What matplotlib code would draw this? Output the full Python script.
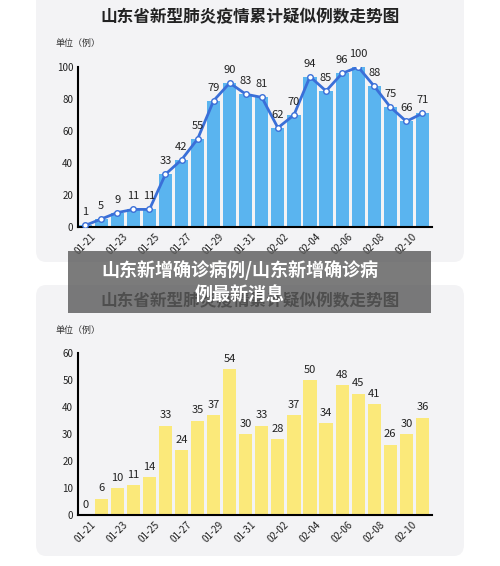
import matplotlib
matplotlib.use("Agg")
import matplotlib.pyplot as plt
from matplotlib.patches import FancyBboxPatch, Rectangle
import numpy as np

plt.rcParams['font.family'] = ['Noto Sans CJK SC', 'DejaVu Sans']

dates = ["01-21","01-22","01-23","01-24","01-25","01-26","01-27","01-28","01-29","01-30","01-31",
         "02-01","02-02","02-03","02-04","02-05","02-06","02-07","02-08","02-09","02-10","02-11"]
suspected = [1,5,9,11,11,33,42,55,79,90,83,81,62,70,94,85,96,100,88,75,66,71]
new_cases = [0,6,10,11,14,33,24,35,37,54,30,33,28,37,50,34,48,45,41,26,30,36]
title = "山东省新型肺炎疫情累计疑似例数走势图"
banner = "山东新增确诊病例/山东新增确诊病\n例最新消息"

W, H = 500, 566
fig = plt.figure(figsize=(W/100, H/100), dpi=100)
fig.patch.set_facecolor("white")

def px(x0, y0, x1, y1):
    return [x0/W, 1-y1/H, (x1-x0)/W, (y1-y0)/H]

# cards
for (y0, y1) in [(-10, 262), (285, 556)]:
    fig.patches.append(FancyBboxPatch((36/W, 1-y1/H), 428/W, (y1-y0)/H,
        boxstyle="round,pad=0,rounding_size=0.02", transform=fig.transFigure,
        facecolor="#f3f3f5", edgecolor="none", zorder=-5))

x = np.arange(len(dates))
ticklabels = [d if i % 2 == 0 else "" for i, d in enumerate(dates)]

def style(ax, ymax, step):
    ax.set_facecolor("none")
    ax.set_zorder(2)
    ax.set_xlim(-0.45, 21.6)
    ax.set_ylim(0, ymax)
    ax.set_yticks(np.arange(0, ymax+1, step))
    for s in ["top", "right"]:
        ax.spines[s].set_visible(False)
    ax.spines["left"].set_linewidth(1.5)
    ax.spines["bottom"].set_linewidth(1.5)
    ax.tick_params(length=0, labelsize=7, colors="#222222")
    ax.set_xticks(x)
    ax.set_xticklabels(ticklabels, rotation=45, fontsize=7)

# top
ax1 = fig.add_axes(px(78, 67, 432, 227))
ax1.bar(x, suspected, width=0.82, color="#5ab4ef", zorder=2)
ax1.plot(x, suspected, color="#3a6fd8", lw=2, marker="o", ms=4, mfc="white", mec="#3a6fd8", zorder=3)
for xi, v in zip(x, suspected):
    ax1.text(xi, v + 5, str(v), ha="center", va="bottom", fontsize=8, color="#222222")
style(ax1, 100, 20)
fig.text(250/W, 1-17/H, title, ha="center", va="center", fontsize=12, weight="bold", color="#222222")
fig.text(55/W, 1-43/H, "单位（例）", ha="left", va="center", fontsize=6.5, color="#333333")

# bottom
ax2 = fig.add_axes(px(78, 353, 432, 515))
ax2.bar(x, new_cases, width=0.82, color="#fbe97a", zorder=2)
for xi, v in zip(x, new_cases):
    ax2.text(xi, v + 2, str(v), ha="center", va="bottom", fontsize=8, color="#222222")
style(ax2, 60, 10)
fig.text(250/W, 1-301/H, title, ha="center", va="center", fontsize=12, weight="bold", color="#222222")
fig.text(55/W, 1-330/H, "单位（例）", ha="left", va="center", fontsize=6.5, color="#333333")

# banner
fig.patches.append(Rectangle((68/W, 1-313/H), 363/W, 62/H, transform=fig.transFigure,
    facecolor="#5a5a5a", alpha=0.8, edgecolor="none", zorder=10))
fig.text(240/W, 1-282/H, banner, ha="center", va="center", fontsize=13, weight="bold",
         color="white", linespacing=1.3, zorder=11)

fig.savefig("out.png", dpi=100)
